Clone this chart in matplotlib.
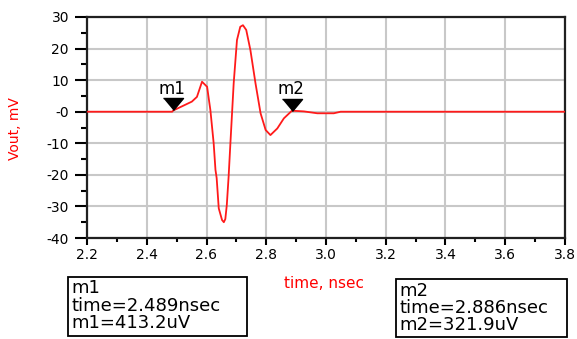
import matplotlib.pyplot as plt
from matplotlib.patches import Rectangle
from matplotlib.ticker import MultipleLocator
import numpy as np

# transient response, time in nsec, Vout in mV
time_ns = [2.200, 2.485, 2.489, 2.520, 2.551, 2.568, 2.585, 2.602, 2.613, 2.624,
           2.630, 2.634, 2.641, 2.652, 2.658, 2.663, 2.668, 2.674, 2.680,
           2.691, 2.702, 2.713, 2.722, 2.733, 2.747, 2.764, 2.781, 2.798,
           2.814, 2.837, 2.859, 2.886, 2.926, 2.971, 3.026, 3.049, 3.797]
vout_mv = [0.0, 0.0, 0.41, 1.8, 3.2, 4.7, 9.5, 7.9, 0.5, -10.0,
           -18.4, -21.0, -30.6, -34.3, -35.0, -34.0, -29.5, -20.6, -10.0,
           9.0, 22.7, 26.9, 27.4, 25.9, 19.5, 9.0, -0.5, -5.8,
           -7.4, -5.3, -2.1, 0.32, 0.1, -0.5, -0.5, 0.0, 0.0]

marker_names = ["m1", "m2"]
marker_time = [2.489, 2.886]
marker_val_uv = [413.2, 321.9]

yticks = [30, 20, 10, 0, -10, -20, -30, -40]
ytick_labels = ["30", "20", "10", "-0", "-10", "-20", "-30", "-40"]
xticks = [2.2, 2.4, 2.6, 2.8, 3.0, 3.2, 3.4, 3.6, 3.8]
xtick_labels = ["2.2", "2.4", "2.6", "2.8", "3.0", "3.2", "3.4", "3.6", "3.8"]

W, H = 577, 339
fig = plt.figure(figsize=(W / 100, H / 100), dpi=100)
ax = fig.add_axes([87 / W, 1 - 238 / H, (565 - 87) / W, (238 - 17) / H])

ax.plot(time_ns, vout_mv, color="#ff1a1a", lw=1.3, zorder=3)

# marker triangles, apex on the data point
tri = [(-10, 12), (10, 12), (0, 0)]
for name, t, v in zip(marker_names, marker_time, marker_val_uv):
    ax.plot([t], [v / 1000], marker=tri, markersize=17.3, color="black",
            linestyle="none", zorder=4, clip_on=False)
    ax.annotate(name, (t, v / 1000), xytext=(-1, 12), textcoords="offset points",
                ha="center", va="baseline", fontsize=12, color="black")

ax.set_xlim(2.2, 3.8)
ax.set_ylim(-40, 30)
ax.set_xticks(xticks)
ax.set_xticklabels(xtick_labels)
ax.set_yticks(yticks)
ax.set_yticklabels(ytick_labels)
ax.xaxis.set_minor_locator(MultipleLocator(0.1))
ax.yaxis.set_minor_locator(MultipleLocator(5))

ax.grid(True, which="major", color="#c8c8c8", lw=1.5, zorder=0)
ax.set_axisbelow(True)
for s in ax.spines.values():
    s.set_linewidth(1.6)
    s.set_color("#202020")

ax.tick_params(axis="y", which="major", direction="out", length=9, width=1.5,
               pad=4, labelsize=10)
ax.tick_params(axis="y", which="minor", direction="out", length=4.5, width=1.5)
ax.tick_params(axis="x", which="major", direction="out", length=5, width=1.5,
               pad=2, labelsize=10)
ax.tick_params(axis="x", which="minor", direction="out", length=3, width=1.5)

fig.text(15 / W, 1 - 128.5 / H, "Vout, mV", rotation=90, color="red",
         ha="center", va="center", fontsize=10)
fig.text(324 / W, 1 - 284 / H, "time, nsec", color="red",
         ha="center", va="center", fontsize=11)

# marker readout boxes
boxes = [(68, 277, 247, 336, 71.5, [293, 311, 328.5]),
         (396, 279, 567, 337, 399.5, [295.5, 313, 330])]
for (x0, y0, x1, y1, tx, baselines), name, t, v in zip(
        boxes, marker_names, marker_time, marker_val_uv):
    fig.patches.append(Rectangle((x0 / W, 1 - y1 / H), (x1 - x0) / W,
                                 (y1 - y0) / H, transform=fig.transFigure,
                                 fill=False, edgecolor="black", lw=1.3))
    lines = [name, f"time={t:.3f}nsec", f"{name}={v:.1f}uV"]
    for txt, by in zip(lines, baselines):
        fig.text(tx / W, 1 - by / H, txt, ha="left", va="baseline",
                 fontsize=13, color="black")

fig.savefig("out.png", dpi=100)
